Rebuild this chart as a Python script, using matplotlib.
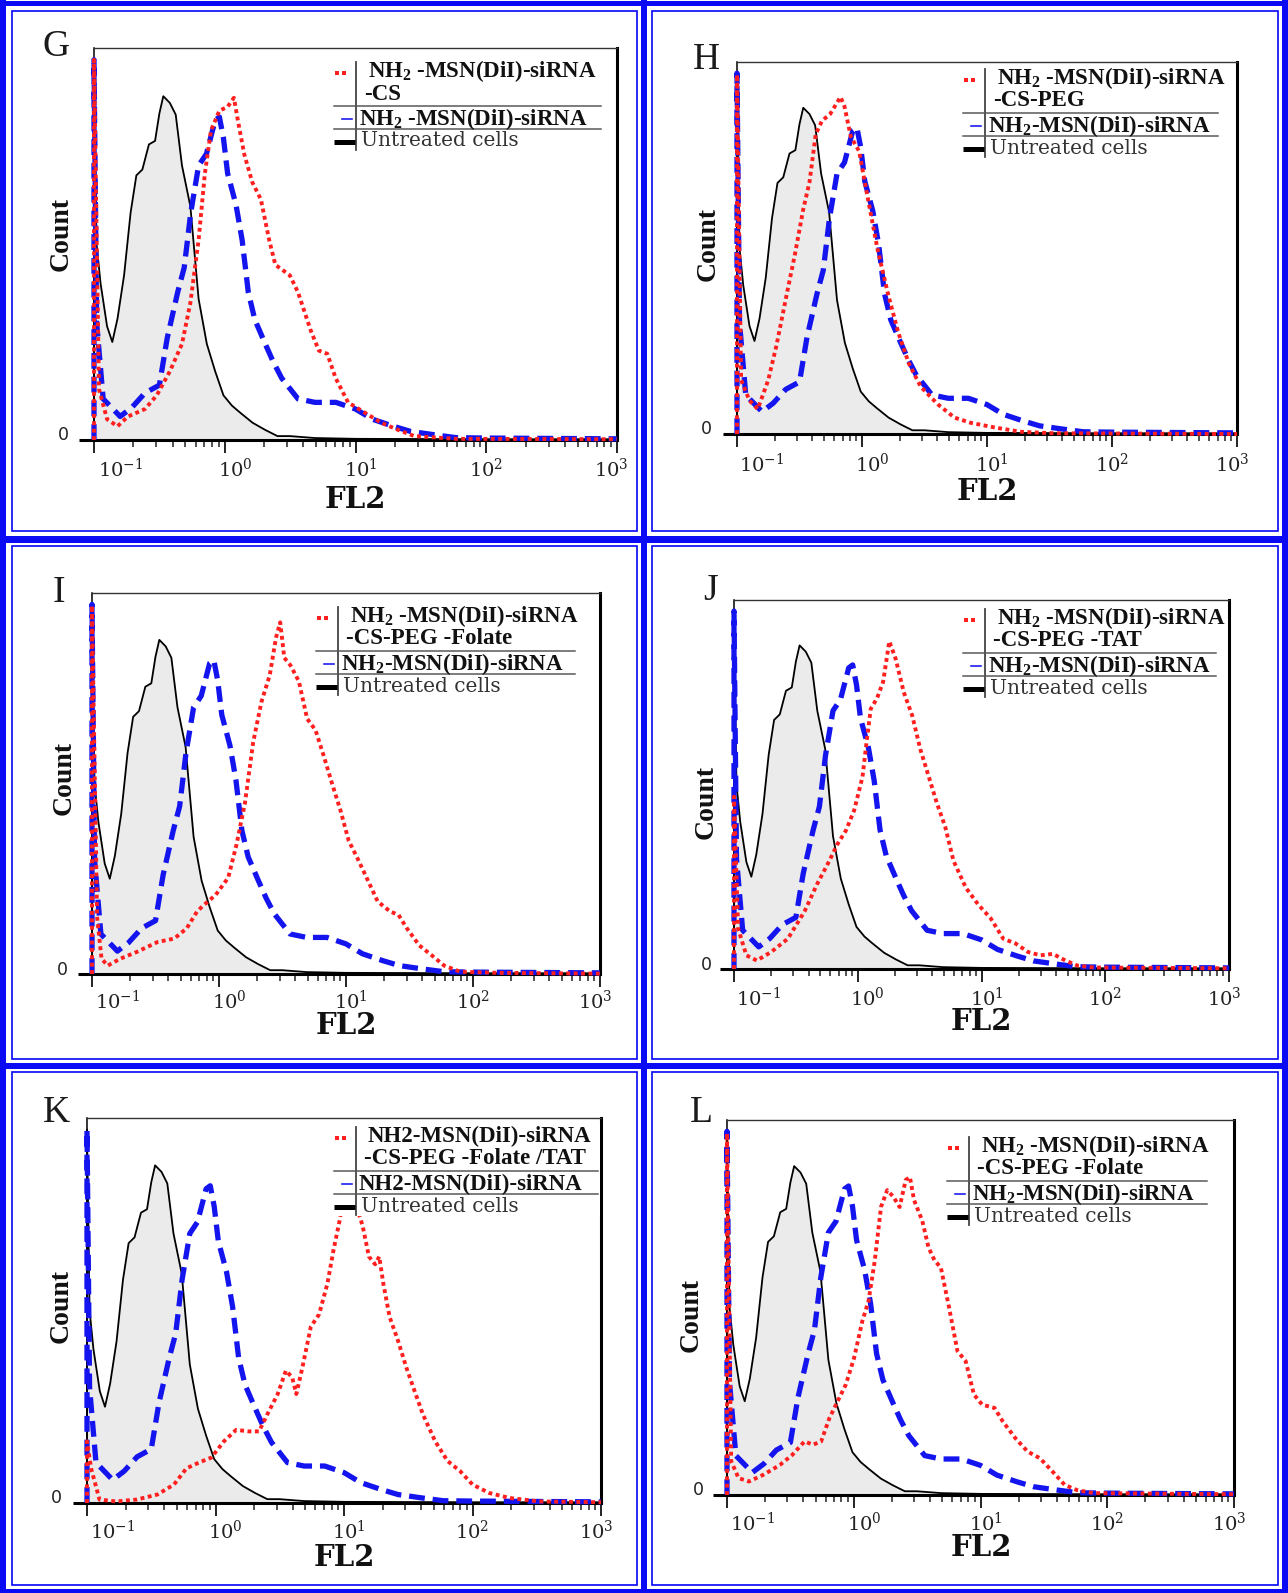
import numpy as np
import matplotlib
matplotlib.use("Agg")
import matplotlib.pyplot as plt
from matplotlib.ticker import LogLocator, NullFormatter, NullLocator
from matplotlib.transforms import blended_transform_factory
from matplotlib.patches import Rectangle

W, H = 1288, 1593

# ---- data: x in log10(FL2), y as fraction of the axis height ----
untreated_lx = [-1.0, -1.0, -0.98, -0.95, -0.90, -0.86, -0.82, -0.77, -0.72, -0.676, -0.63,
                -0.58, -0.533, -0.50, -0.47, -0.42, -0.375, -0.327, -0.263, -0.2, -0.137,
                -0.073, -0.01, 0.054, 0.117, 0.213, 0.308, 0.403, 0.498, 0.69, 1.0, 2.0, 3.0]
untreated_y = [0.0, 0.97, 0.50, 0.40, 0.29, 0.25, 0.31, 0.42, 0.58, 0.675, 0.69,
               0.754, 0.763, 0.833, 0.877, 0.86, 0.83, 0.70, 0.596, 0.36, 0.245,
               0.175, 0.114, 0.088, 0.07, 0.044, 0.026, 0.01, 0.01, 0.005, 0.003, 0.002, 0.002]

plain_lx = [-1.0, -1.0, -0.98, -0.93, -0.80, -0.71, -0.61, -0.50, -0.44, -0.36, -0.31, -0.26,
            -0.20, -0.14, -0.073, -0.041, -0.01, 0.022, 0.086, 0.133, 0.18, 0.23, 0.31, 0.37,
            0.435, 0.56, 0.69, 0.85, 1.0, 1.13, 1.29, 1.42, 1.61, 1.77, 1.99, 3.0]
plain_y = [0.0, 0.97, 0.30, 0.105, 0.06, 0.083, 0.12, 0.14, 0.26, 0.377, 0.44, 0.58,
           0.70, 0.73, 0.816, 0.824, 0.77, 0.68, 0.60, 0.51, 0.377, 0.307, 0.245, 0.20,
           0.158, 0.105, 0.096, 0.096, 0.079, 0.053, 0.035, 0.022, 0.013, 0.006, 0.005, 0.003]

panels = ['G', 'H', 'I', 'J', 'K', 'L']

red_lx = {
    'G': [-1.0, -1.0, -0.962, -0.90, -0.82, -0.74, -0.61, -0.52, -0.42, -0.327, -0.263, -0.2,
          -0.152, -0.105, -0.041, 0.022, 0.07, 0.10, 0.15, 0.21, 0.276, 0.34, 0.387, 0.498,
          0.56, 0.657, 0.72, 0.784, 0.848, 0.943, 1.07, 1.197, 1.324, 1.45, 1.77, 3.0],
    'H': [-1.0, -1.0, -0.967, -0.90, -0.834, -0.75, -0.685, -0.603, -0.536, -0.47, -0.42,
          -0.37, -0.32, -0.255, -0.172, -0.14, -0.09, -0.023, 0.043, 0.126, 0.21, 0.29,
          0.374, 0.47, 0.606, 0.74, 0.87, 1.07, 1.27, 1.53, 3.0],
    'I': [-1.0, -1.0, -0.96, -0.925, -0.876, -0.778, -0.647, -0.483, -0.352, -0.254, -0.173,
          -0.123, -0.025, 0.073, 0.138, 0.204, 0.269, 0.334, 0.40, 0.449, 0.482, 0.514, 0.563,
          0.629, 0.694, 0.76, 0.825, 0.89, 0.956, 1.021, 1.087, 1.152, 1.25, 1.348, 1.414,
          1.479, 1.577, 1.675, 1.773, 1.90, 2.2, 3.0],
    'J': [-1.0, -1.0, -0.967, -0.90, -0.816, -0.70, -0.565, -0.43, -0.33, -0.23, -0.163,
          -0.096, -0.029, 0.038, 0.071, 0.105, 0.155, 0.205, 0.255, 0.305, 0.372, 0.44, 0.506,
          0.573, 0.64, 0.707, 0.774, 0.874, 0.975, 1.075, 1.176, 1.276, 1.377, 1.477, 1.577,
          1.678, 1.778, 1.91, 3.0],
    'K': [-1.0, -1.0, -0.968, -0.903, -0.774, -0.613, -0.452, -0.323, -0.226, -0.129, -0.032,
          0.065, 0.161, 0.258, 0.339, 0.403, 0.484, 0.548, 0.597, 0.629, 0.677, 0.742, 0.806,
          0.871, 0.919, 0.968, 1.0, 1.048, 1.097, 1.145, 1.194, 1.242, 1.274, 1.306, 1.355,
          1.419, 1.484, 1.548, 1.613, 1.71, 1.806, 1.903, 2.0, 2.13, 2.29, 2.52, 3.0],
    'L': [-1.0, -1.0, -0.967, -0.909, -0.827, -0.713, -0.583, -0.485, -0.388, -0.322, -0.257,
          -0.192, -0.127, -0.062, 0.003, 0.068, 0.117, 0.166, 0.215, 0.264, 0.313, 0.362,
          0.41, 0.443, 0.476, 0.54, 0.59, 0.638, 0.687, 0.752, 0.818, 0.883, 0.948, 1.013,
          1.111, 1.176, 1.274, 1.371, 1.469, 1.567, 1.664, 1.762, 1.893, 3.0],
}
red_y = {
    'G': [0, 0.97, 0.13, 0.053, 0.035, 0.06, 0.079, 0.114, 0.175, 0.245, 0.35, 0.51,
          0.68, 0.79, 0.84, 0.85, 0.873, 0.816, 0.728, 0.658, 0.614, 0.51, 0.447, 0.42,
          0.377, 0.28, 0.228, 0.22, 0.158, 0.096, 0.07, 0.044, 0.026, 0.01, 0.003, 0.002],
    'H': [0, 0.966, 0.145, 0.09, 0.067, 0.145, 0.237, 0.374, 0.484, 0.604, 0.677,
          0.806, 0.842, 0.86, 0.906, 0.88, 0.80, 0.76, 0.64, 0.494, 0.374, 0.273,
          0.19, 0.127, 0.08, 0.044, 0.03, 0.017, 0.006, 0.002, 0.0],
    'I': [0, 0.967, 0.15, 0.04, 0.022, 0.04, 0.058, 0.084, 0.093, 0.12, 0.164,
          0.18, 0.208, 0.253, 0.34, 0.448, 0.608, 0.714, 0.785, 0.883, 0.923, 0.83, 0.81,
          0.768, 0.67, 0.64, 0.572, 0.50, 0.43, 0.35, 0.306, 0.26, 0.19, 0.164, 0.155,
          0.12, 0.075, 0.049, 0.022, 0.006, 0.003, 0.001],
    'J': [0, 0.467, 0.11, 0.037, 0.023, 0.046, 0.082, 0.156, 0.229, 0.293, 0.339,
          0.375, 0.43, 0.52, 0.614, 0.705, 0.733, 0.778, 0.888, 0.842, 0.75, 0.687, 0.595,
          0.522, 0.449, 0.385, 0.293, 0.22, 0.174, 0.137, 0.082, 0.069, 0.046, 0.037, 0.041,
          0.023, 0.009, 0.004, 0.002],
    'K': [0, 0.16, 0.09, 0.009, 0.004, 0.009, 0.022, 0.048, 0.09, 0.105, 0.118,
          0.16, 0.19, 0.186, 0.186, 0.23, 0.283, 0.344, 0.326, 0.283, 0.353, 0.458, 0.49,
          0.57, 0.658, 0.737, 0.807, 0.84, 0.77, 0.72, 0.64, 0.62, 0.64, 0.57, 0.483,
          0.423, 0.353, 0.292, 0.231, 0.16, 0.109, 0.083, 0.048, 0.026, 0.013, 0.004, 0.002],
    'L': [0, 0.964, 0.09, 0.045, 0.036, 0.054, 0.08, 0.107, 0.143, 0.134, 0.143,
          0.205, 0.25, 0.295, 0.366, 0.464, 0.518, 0.625, 0.768, 0.813, 0.795, 0.768,
          0.84, 0.848, 0.786, 0.732, 0.66, 0.625, 0.607, 0.50, 0.384, 0.357, 0.268, 0.241,
          0.232, 0.196, 0.152, 0.116, 0.098, 0.063, 0.027, 0.013, 0.005, 0.002],
}

red_label_1 = {'G': 'NH$_2$ -MSN(DiI)-siRNA', 'H': 'NH$_2$ -MSN(DiI)-siRNA',
               'I': 'NH$_2$ -MSN(DiI)-siRNA', 'J': 'NH$_2$ -MSN(DiI)-siRNA',
               'K': 'NH2-MSN(DiI)-siRNA', 'L': 'NH$_2$ -MSN(DiI)-siRNA'}
red_label_2 = {'G': '-CS', 'H': '-CS-PEG', 'I': '-CS-PEG -Folate', 'J': '-CS-PEG -TAT',
               'K': '-CS-PEG -Folate /TAT', 'L': '-CS-PEG -Folate'}
blue_label = {'G': 'NH$_2$ -MSN(DiI)-siRNA', 'H': 'NH$_2$-MSN(DiI)-siRNA',
              'I': 'NH$_2$-MSN(DiI)-siRNA', 'J': 'NH$_2$-MSN(DiI)-siRNA',
              'K': 'NH2-MSN(DiI)-siRNA', 'L': 'NH$_2$-MSN(DiI)-siRNA'}
black_label = 'Untreated cells'
tick_exps = [-1, 0, 1, 2, 3]

# ---- layout (pixels) ----
axes_box = {'G': (94, 48, 617, 440), 'H': (737, 62, 1237, 434),
            'I': (92, 593, 600, 974), 'J': (734, 600, 1229, 969),
            'K': (87, 1118, 601, 1503), 'L': (727, 1120, 1234, 1495)}
letter_pos = {'G': (56, 47), 'H': (706, 60), 'I': (59, 593),
              'J': (711, 591), 'K': (56, 1113), 'L': (701, 1113)}
count_pos = {'G': (61, 234), 'H': (708, 244), 'I': (64, 778),
             'J': (706, 802), 'K': (61, 1306), 'L': (691, 1315)}
zero_pos = {'G': (63, 435), 'H': (706, 429), 'I': (62, 970),
            'J': (706, 965), 'K': (56, 1498), 'L': (698, 1490)}
ticky = {'G': 469, 'H': 464, 'I': 1001, 'J': 998, 'K': 1531, 'L': 1523}
fl2_pos = {'G': (355, 499), 'H': (987, 491), 'I': (346, 1025),
           'J': (981, 1022), 'K': (344, 1557), 'L': (981, 1547)}
legend_anchor = {'G': (356, 71, 245), 'H': (985, 78, 233), 'I': (338, 616, 237),
                 'J': (985, 618, 231), 'K': (356, 1136, 242), 'L': (969, 1146, 238)}
tick_shift = [0.2, 0.08, 0.04, 0.0, -0.04]

BLUE = '#1414ee'
RED = '#ff1f1f'
FRAME = '#0a0af5'
PT = 0.72  # points per pixel at dpi 100

plt.rcParams['mathtext.fontset'] = 'custom'
plt.rcParams['mathtext.rm'] = 'Liberation Serif:bold'
plt.rcParams['mathtext.it'] = 'Liberation Serif:bold'
plt.rcParams['mathtext.bf'] = 'Liberation Serif:bold'

fig = plt.figure(figsize=(W / 100, H / 100), dpi=100)
fig.patch.set_facecolor('white')

ov = fig.add_axes([0, 0, 1, 1])
ov.set_xlim(0, W)
ov.set_ylim(H, 0)
ov.axis('off')
ov.set_zorder(10)

for p in panels:
    l, t, r, b = axes_box[p]
    ax = fig.add_axes([l / W, 1 - b / H, (r - l) / W, (b - t) / H])
    ax.set_xscale('log')
    ax.set_xlim(0.1, 1000)
    ax.set_ylim(0, 1)
    ux = 10 ** np.array(untreated_lx)
    ax.fill_between(ux, untreated_y, 0, color='#ebebeb', lw=0, zorder=1)
    ax.plot(ux, untreated_y, color='black', lw=1.3, zorder=3, clip_on=False)
    ax.plot(10 ** np.array(plain_lx), plain_y, color=BLUE, lw=3.8, dashes=(3, 1.5),
            zorder=4, clip_on=False)
    ax.plot(10 ** np.array(red_lx[p]), red_y[p], color=RED, lw=2.8, dashes=(1, 0.9),
            zorder=5, clip_on=False)

    ax.spines['left'].set_linewidth(1.1)
    ax.spines['top'].set_linewidth(1.0)
    ax.spines['top'].set_color('#333333')
    ax.spines['right'].set_linewidth(2.2)
    ax.spines['bottom'].set_linewidth(2.2)
    ax.plot([-0.028, 0], [0, 0], transform=ax.transAxes, color='black', lw=2.2,
            clip_on=False, solid_capstyle='butt')
    ax.yaxis.set_major_locator(NullLocator())
    ax.xaxis.set_major_locator(LogLocator(base=10))
    ax.xaxis.set_minor_locator(LogLocator(base=10, subs=np.arange(2, 10)))
    ax.xaxis.set_minor_formatter(NullFormatter())
    ax.tick_params(axis='x', which='major', direction='out', length=9, width=1.4,
                   color='#222222', labelbottom=False)
    ax.tick_params(axis='x', which='minor', direction='out', length=5, width=1.1,
                   color='#222222')

    tr = blended_transform_factory(ax.transData, ov.transData)
    for e, s in zip(tick_exps, tick_shift):
        ax.text(10 ** (e + s), ticky[p], '$10^{%d}$' % e, transform=tr, ha='center',
                va='center', fontsize=14, color='#222222', family='DejaVu Serif',
                math_fontfamily='dejavuserif', clip_on=False)

    ov.text(*letter_pos[p], p, fontsize=27, family='Liberation Serif', color='#1a1a1a',
            ha='center', va='center')
    ov.text(*count_pos[p], 'Count', fontsize=20, family='Liberation Serif', weight='bold',
            rotation=90, ha='center', va='center', color='#111111')
    ov.text(*zero_pos[p], '0', fontsize=12.5, family='DejaVu Sans', ha='center',
            va='center', color='#222222')
    ov.text(*fl2_pos[p], 'FL2', fontsize=21, family='DejaVu Serif', weight='bold',
            ha='center', va='center', color='#111111')

    # legend table
    vx, ty, wd = legend_anchor[p]
    ov.add_patch(Rectangle((vx - 24, ty - 13), wd + 26, 93, fc='white', ec='none', zorder=1))
    ov.plot([vx - 19, vx - 12], [ty + 2, ty + 2], ls='none', marker='s', ms=3.4,
            color=RED, mew=0, zorder=3)
    ov.plot([vx, vx], [ty - 9, ty + 79], color='#444444', lw=1.3, zorder=3)
    ov.text(vx + 12, ty, red_label_1[p], fontsize=16.5, family='Liberation Serif',
            weight='bold', ha='left', va='center', color='#111111', math_fontfamily='custom',
            zorder=4)
    ov.text(vx + 8, ty + 23, red_label_2[p], fontsize=16.5, family='Liberation Serif',
            weight='bold', ha='left', va='center', color='#111111', zorder=4)
    for dy in (35, 58):
        ov.plot([vx - 22, vx + wd], [ty + dy, ty + dy], color='#555555', lw=1.5 * PT, zorder=3)
    ov.plot([vx - 14, vx - 4], [ty + 48, ty + 48], color=BLUE, lw=1.6 * PT, zorder=3)
    ov.text(vx + 3, ty + 48, blue_label[p], fontsize=16.5, family='Liberation Serif',
            weight='bold', ha='left', va='center', color='#111111', math_fontfamily='custom',
            zorder=4)
    ov.plot([vx - 22, vx - 1], [ty + 71, ty + 71], color='black', lw=5 * PT,
            solid_capstyle='butt', zorder=3)
    ov.text(vx + 5, ty + 70, black_label, fontsize=14.5, family='DejaVu Serif',
            ha='left', va='center', color='#333333', zorder=4)

# blue frames
for x in (3, 644, 1285):
    ov.plot([x, x], [0, H], color=FRAME, lw=6 * PT, solid_capstyle='butt')
for y, w in ((2.5, 5), (539, 7), (1066, 6), (1591, 4)):
    ov.plot([0, W], [y, y], color=FRAME, lw=w * PT, solid_capstyle='butt')
cols = [(12, 637), (652, 1278)]
rows = [(11, 531), (546, 1059), (1072, 1585)]
for (y0, y1) in rows:
    for (x0, x1) in cols:
        ov.add_patch(Rectangle((x0, y0), x1 - x0, y1 - y0, fill=False, ec=FRAME,
                               lw=1.7 * PT))

fig.savefig('out.png', dpi=100, facecolor='white')
